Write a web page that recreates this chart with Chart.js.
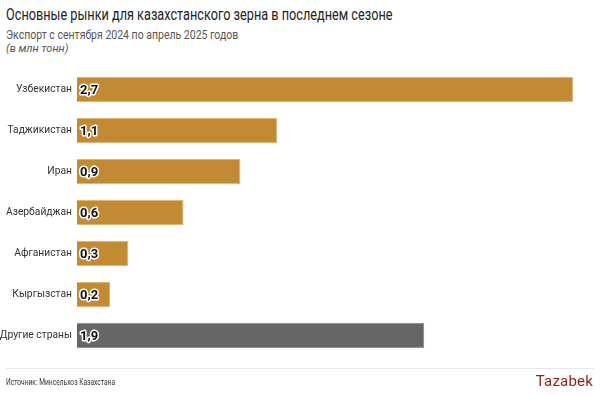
<!DOCTYPE html>
<html>
<head>
<meta charset="utf-8">
<script src="https://cdn.jsdelivr.net/npm/chart.js@4"></script>
<style>
    body { margin: 0; background: #fff; font-family: Roboto, sans-serif; }
    #wrap { position: relative; width: 600px; height: 395px; overflow: hidden; }
    #chart { position: absolute; left: 0; top: 0; }
    .txt { position: absolute; white-space: nowrap; transform-origin: left center; }
    #title { left: 6px; top: 5px; font-size: 16.5px; color: #222; transform: scaleX(0.77); }
    #sub { left: 6px; top: 27px; font-size: 12.5px; color: #555; transform: scaleX(0.84); }
    #unit { left: 6px; top: 42px; font-size: 11px; color: #555; font-style: italic; }
    #rule { position: absolute; left: 6px; right: 6px; top: 368px; height: 1px; background: #e6e6e6; }
    #source { left: 6px; top: 376px; font-size: 9.5px; color: #333; transform: scaleX(0.7); }
    #logo { right: 7px; top: 372px; font-size: 15px; color: #9b1b1b; letter-spacing: 0.2px; }
</style>
</head>
<body>
<div id="wrap">
    <div class="txt" id="title">Основные рынки для казахстанского зерна в последнем сезоне</div>
    <div class="txt" id="sub">Экспорт с сентября 2024 по апрель 2025 годов</div>
    <div class="txt" id="unit">(в млн тонн)</div>
    <canvas id="chart" width="600" height="395"></canvas>
    <div id="rule"></div>
    <div class="txt" id="source">Источник: Минсельхоз Казахстана</div>
    <div class="txt" id="logo">Tazabek</div>
</div>
<script>
    const countries = ['Узбекистан', 'Таджикистан', 'Иран', 'Азербайджан', 'Афганистан', 'Кыргызстан', 'Другие страны'];
    const exports = [2.7, 1.09, 0.89, 0.58, 0.28, 0.18, 1.89];
    const barColors = ['#c28a33', '#c28a33', '#c28a33', '#c28a33', '#c28a33', '#c28a33', '#666666'];
    const edgeColors = ['#e0b46e', '#e0b46e', '#e0b46e', '#e0b46e', '#e0b46e', '#e0b46e', '#8a8a8a'];

    /* value labels inside bars */
    const valueLabels = {
        id: 'valueLabels',
        afterDatasetsDraw(chart) {
            const ctx = chart.ctx;
            const meta = chart.getDatasetMeta(0);
            ctx.save();
            ctx.font = 'bold 13px Roboto';
            ctx.textBaseline = 'middle';
            ctx.textAlign = 'left';
            ctx.lineJoin = 'round';
            meta.data.forEach(function (bar, i) {
                const txt = exports[i].toFixed(1).replace('.', ',');
                const x = bar.base + 3;
                ctx.lineWidth = 3;
                ctx.strokeStyle = '#fff';
                ctx.strokeText(txt, x, bar.y + 1);
                ctx.fillStyle = '#111';
                ctx.fillText(txt, x, bar.y + 1);
            });
            ctx.restore();
        }
    };

    const ctx = document.getElementById('chart').getContext('2d');
    new Chart(ctx, {
        type: 'bar',
        data: {
            labels: countries,
            datasets: [{
                data: exports,
                backgroundColor: barColors,
                borderColor: edgeColors,
                borderWidth: 1,
                barPercentage: 0.62,
                categoryPercentage: 1
            }]
        },
        options: {
            indexAxis: 'y',
            responsive: false,
            animation: false,
            layout: { padding: { top: 69, bottom: 39, left: 0, right: 27 } },
            plugins: {
                legend: { display: false },
                tooltip: { enabled: false }
            },
            scales: {
                x: { display: false, min: 0, max: 2.7 },
                y: {
                    grid: { display: false, drawTicks: false },
                    border: { display: false },
                    ticks: {
                        padding: 5,
                        color: '#333',
                        font: { family: 'Roboto', size: 10.3 }
                    },
                    afterFit: function (scale) { scale.width = 77; }
                }
            }
        },
        plugins: [valueLabels]
    });
</script>
</body>
</html>
